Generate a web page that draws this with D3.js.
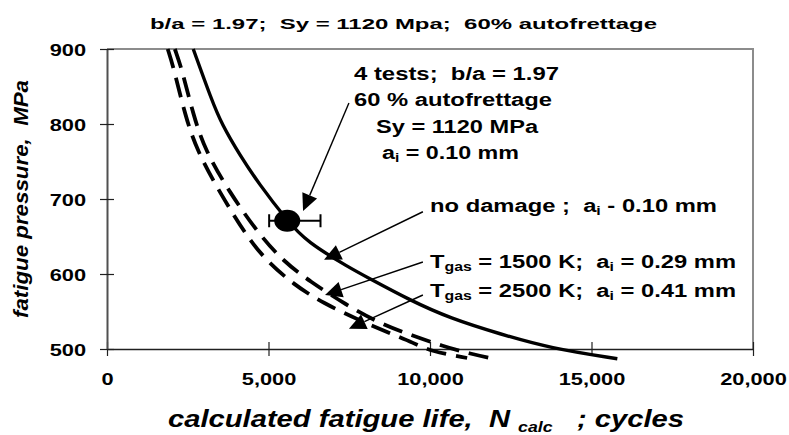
<!DOCTYPE html>
<html>
<head>
<meta charset="utf-8">
<script src="https://cdn.jsdelivr.net/npm/d3@7"></script>
<style>
  html, body { margin: 0; padding: 0; background: #fff; }
  svg { display: block; font-family: "Liberation Sans", Arial, sans-serif; font-weight: bold; }
  svg text { white-space: pre; }
</style>
</head>
<body>
<svg id="chart" width="789" height="435"></svg>
<script>
// values
const noDamageN = [2670, 3240, 3550, 4120, 4690, 5580, 6180, 7520, 8040, 9380, 10620, 12170, 13720, 15800];
const noDamageP = [900, 832, 800, 758, 721, 671, 643, 608, 596, 565, 541, 520, 501, 487];

const gas1500N = [2100, 2313, 2672, 3034, 3808, 4686, 5458, 6285, 7400, 8450, 9455, 10383, 11210, 12070];
const gas1500P = [900, 874, 812, 765, 708, 654, 617, 590, 559, 534, 518, 504, 494, 486];

const gas2500N = [1880, 2070, 2415, 2780, 3500, 4330, 4890, 5770, 6700, 7830, 8700, 9500, 10020, 11150];
const gas2500P = [900, 874, 812, 765, 708, 650, 620, 586, 561, 538, 522, 508, 497, 488];

const testN = [5580];
const testP = [671];
const testMinN = [5020];
const testMaxN = [6610];

const xTicks = [0, 5000, 10000, 15000, 20000];
const yTicks = [500, 600, 700, 800, 900];

// layout
const svg = d3.select('#chart');
const plot = { left: 107, right: 753, top: 49, bottom: 349 };
const x = d3.scaleLinear().domain([0, 20000]).range([plot.left, plot.right]);
const y = d3.scaleLinear().domain([500, 900]).range([plot.bottom, plot.top]);
const stretch = 1.36; // the original picture is stretched sideways

// plot frame (gray top/right)
svg.append('path')
  .attr('d', `M${plot.left},${plot.top}H${plot.right}V${plot.bottom}`)
  .attr('fill', 'none').attr('stroke', '#8c8c8c').attr('stroke-width', 2);

// axes
const xAxis = svg.append('g')
  .attr('transform', `translate(0,${plot.bottom})`)
  .call(d3.axisBottom(x).tickValues(xTicks).tickFormat(d3.format(',')).tickSize(7).tickSizeOuter(0));
xAxis.select('.domain').attr('stroke', '#202020').attr('stroke-width', 1.6);
xAxis.selectAll('.tick line').attr('y1', -7).attr('stroke', '#202020').attr('stroke-width', 1.2);
xAxis.selectAll('.tick text')
  .attr('y', 36).attr('dy', 0)
  .attr('font-size', 16).attr('font-family', null).attr('fill', '#000');

const yAxis = svg.append('g')
  .attr('transform', `translate(${plot.left},0)`)
  .call(d3.axisLeft(y).tickValues(yTicks).tickSize(7).tickSizeOuter(0));
yAxis.select('.domain').attr('stroke', '#505050').attr('stroke-width', 2);
yAxis.selectAll('.tick line').attr('x1', 7).attr('stroke', '#202020').attr('stroke-width', 1.2);
yAxis.selectAll('.tick text')
  .attr('x', -21).attr('dy', 6)
  .attr('font-size', 16).attr('font-family', null).attr('fill', '#000');

svg.selectAll('.tick text').each(function () {
  const w = this.getComputedTextLength();
  d3.select(this).attr('textLength', w * stretch).attr('lengthAdjust', 'spacingAndGlyphs');
});

// curves
const line = d3.line()
  .x((d) => x(d[0]))
  .y((d) => y(d[1]))
  .curve(d3.curveBasis);

const series = [
  { n: noDamageN, p: noDamageP, dash: null },
  { n: gas1500N, p: gas1500P, dash: '20,10' },
  { n: gas2500N, p: gas2500P, dash: '20,10' },
];
series.forEach((s) => {
  svg.append('path')
    .datum(d3.zip(s.n, s.p))
    .attr('d', line)
    .attr('fill', 'none')
    .attr('stroke', '#000')
    .attr('stroke-width', s.dash ? 3.8 : 3.4)
    .attr('stroke-dasharray', s.dash);
});

// test point with scatter band
const tests = d3.zip(testN, testP, testMinN, testMaxN);
const eb = svg.append('g').attr('stroke', '#000').attr('stroke-width', 2);
tests.forEach(([n, p, lo, hi]) => {
  eb.append('line').attr('x1', x(lo)).attr('x2', x(hi)).attr('y1', y(p)).attr('y2', y(p));
  [lo, hi].forEach((v) => {
    eb.append('line').attr('x1', x(v)).attr('x2', x(v)).attr('y1', y(p) - 6.5).attr('y2', y(p) + 6.5);
  });
  svg.append('ellipse').attr('cx', x(n)).attr('cy', y(p)).attr('rx', 13).attr('ry', 11).attr('fill', '#000');
});

// annotation arrows (start, tip in data units)
const arrows = [
  [[7490, 828], [6070, 684]],
  [[9780, 683], [6720, 619]],
  [[9780, 616], [6750, 572]],
  [[9780, 572], [7490, 527]],
];
arrows.forEach(([a, b]) => {
  const x0 = x(a[0]), y0 = y(a[1]), x1 = x(b[0]), y1 = y(b[1]);
  const len = Math.hypot(x1 - x0, y1 - y0);
  const ux = (x1 - x0) / len, uy = (y1 - y0) / len;
  const hl = 17, hw = 8;
  const bx = x1 - ux * hl, by = y1 - uy * hl;
  svg.append('line').attr('x1', x0).attr('y1', y0).attr('x2', bx).attr('y2', by)
    .attr('stroke', '#000').attr('stroke-width', 1.4);
  svg.append('path')
    .attr('d', `M${x1},${y1}L${bx - uy * hw},${by + ux * hw}L${bx + uy * hw},${by - ux * hw}Z`)
    .attr('fill', '#000');
});

// text helper: parts are strings or [text, subSize]
function label(px, py, parts, size, width, opts = {}) {
  const t = svg.append('text')
    .attr('x', px).attr('y', py)
    .attr('font-size', size)
    .attr('text-anchor', opts.anchor || 'start')
    .attr('textLength', width)
    .attr('lengthAdjust', 'spacingAndGlyphs');
  if (opts.italic) t.attr('font-style', 'italic');
  if (opts.rotate) t.attr('transform', `rotate(-90,${px},${py})`);
  const drop = opts.subDrop || 3;
  let lowered = false;
  parts.forEach((part) => {
    const sp = t.append('tspan');
    if (typeof part === 'string') {
      if (lowered) sp.attr('dy', -drop);
      lowered = false;
      sp.text(part);
    } else {
      sp.attr('dy', drop).attr('font-size', part[1]).text(part[0]);
      lowered = true;
    }
  });
  return t;
}

label(150, 29, ['b/a = 1.97;  Sy = 1120 Mpa;  60% autofrettage'], 15, 507);

label(354, 80, ['4 tests;  b/a = 1.97'], 18, 205);
label(354, 106, ['60 % autofrettage'], 18, 198);
label(376, 133, ['Sy = 1120 MPa'], 18, 162);
label(382, 159, ['a', ['i', 12], ' = 0.10 mm'], 18, 137);

label(430, 212, ['no damage ;  a', ['i', 12], ' - 0.10 mm'], 18, 287);
label(430, 268, ['T', ['gas', 12], ' = 1500 K;  a', ['i', 12], ' = 0.29 mm'], 18, 306);
label(430, 297, ['T', ['gas', 12], ' = 2500 K;  a', ['i', 12], ' = 0.41 mm'], 18, 306);

label(168, 427, ['calculated fatigue life,  N ', ['calc', 14], '   ; cycles'], 23, 516, { italic: true, subDrop: 5 });
label(28, 199, ['fatigue pressure,  MPa'], 21, 238, { italic: true, rotate: true, anchor: 'middle' });
</script>
</body>
</html>
